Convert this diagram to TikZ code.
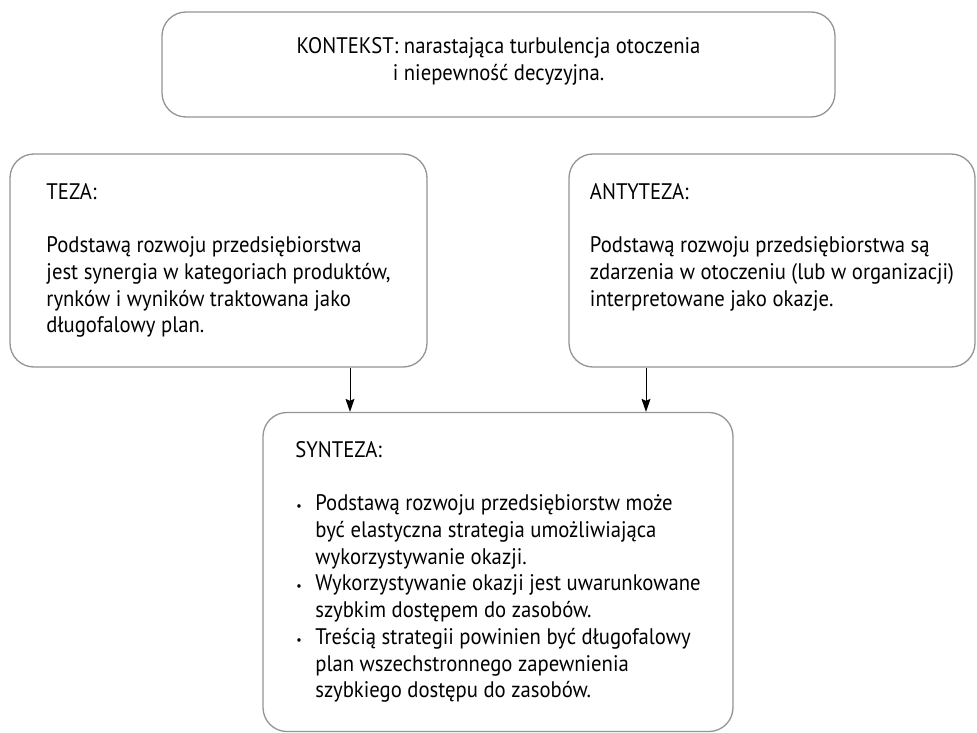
\documentclass[tikz,border=0pt]{standalone}
\usepackage{fontspec}
\setmainfont{PT Sans}[FakeStretch=0.92]
\usetikzlibrary{positioning}
\usetikzlibrary{arrows.meta}
\usetikzlibrary{calc}
\tikzset{>={Stealth[length=13pt,width=9pt,inset=2pt]}}
\tikzset{
  box/.style={draw=black!42, line width=1.3pt, rounded corners=24pt,
    inner sep=0pt, align=left, font=\fontsize{22.5}{26.7}\selectfont},
  link/.style={->, line width=1pt},
}
\newcommand{\bul}{\makebox[20pt][l]{\hspace{1pt}{\fontsize{13}{13}\selectfont\textbullet}}}
\newcommand{\ind}{\hspace*{20pt}}

\begin{document}
\begin{tikzpicture}[x=1pt, y=-1pt]
        \useasboundingbox (0,0) rectangle (977,733);
        \node[box, align=center, minimum width=673pt, minimum height=105pt] (kontekst) at (498.5, 64.5)
            {KONTEKST: narastająca turbulencja otoczenia\\ i niepewność decyzyjna.\rule[-11pt]{0pt}{0pt}};
        \node[box, minimum width=417pt, minimum height=213pt] (teza) at (218.5, 260.5)
            {TEZA:\\[26.7pt] Podstawą rozwoju przedsiębiorstwa\\ jest synergia w kategoriach produktów,\\
             rynków i wyników traktowana jako\\ długofalowy plan.};
        \node[box, minimum width=406pt, minimum height=213pt] (antyteza) at (772, 260.5)
            {ANTYTEZA:\\[26.7pt] Podstawą rozwoju przedsiębiorstwa są\\ zdarzenia w otoczeniu (lub w organizacji)\\
             interpretowane jako okazje.\\ \vphantom{y}};
        \node[box, minimum width=470pt, minimum height=319pt] (synteza) at (498, 572)
            {SYNTEZA:\\[26.7pt] \bul Podstawą rozwoju przedsiębiorstw może\\ \ind być elastyczna strategia umożliwiająca\\
             \ind wykorzystywanie okazji.\\ \bul Wykorzystywanie okazji jest uwarunkowane\\
             \ind szybkim dostępem do zasobów.\\ \bul Treścią strategii powinien być długofalowy\\
             \ind plan wszechstronnego zapewnienia\\ \ind szybkiego dostępu do zasobów.};
        \draw[link] ([xshift=-148pt]synteza.north |- teza.south) -- ([xshift=-148pt]synteza.north);
        \draw[link] ([xshift=148pt]synteza.north |- antyteza.south) -- ([xshift=148pt]synteza.north);
    \end{tikzpicture}
\end{document}
